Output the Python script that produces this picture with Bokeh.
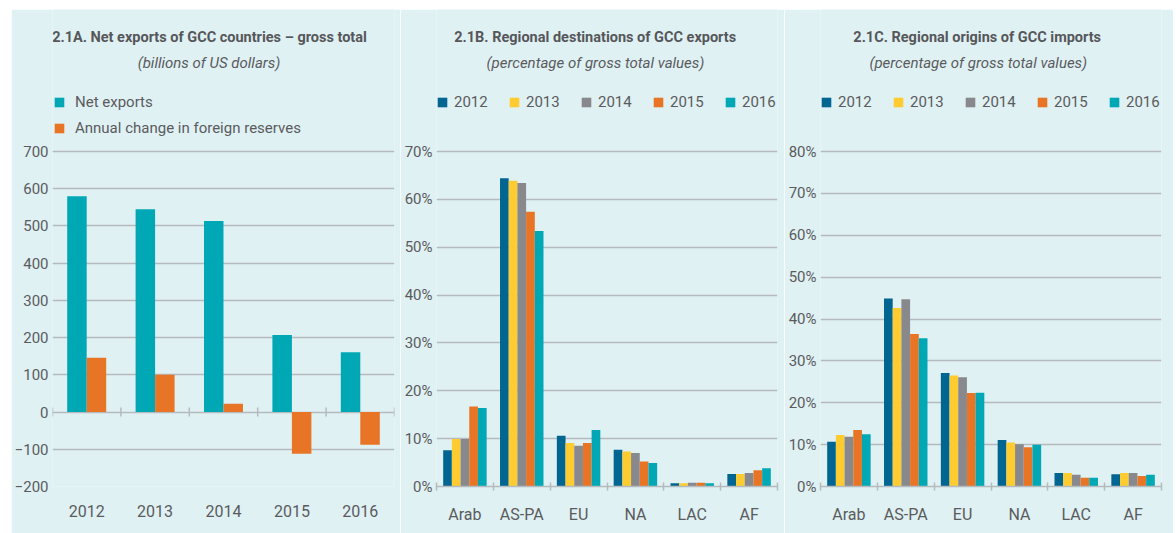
import math
from bokeh.plotting import figure
from bokeh.layouts import row, column
from bokeh.models import (Range1d, FixedTicker, Label, Legend, LegendItem,
                          PrintfTickFormatter, Spacer)
from bokeh.transform import dodge
from bokeh.embed import file_html
from bokeh.resources import INLINE

# ---------------- data ----------------
years = ["2012", "2013", "2014", "2015", "2016"]
net_exports = [580, 545, 513, 207, 161]
reserve_change = [146, 100, 22, -112, -88]

regions = ["Arab", "AS-PA", "EU", "NA", "LAC", "AF"]
dest_2012 = [7.6, 64.4, 10.6, 7.7, 0.7, 2.6]
dest_2013 = [9.9, 63.9, 9.1, 7.3, 0.7, 2.6]
dest_2014 = [9.9, 63.4, 8.5, 7.0, 0.8, 2.8]
dest_2015 = [16.7, 57.4, 9.1, 5.2, 0.8, 3.4]
dest_2016 = [16.4, 53.4, 11.8, 4.9, 0.7, 3.8]

orig_2012 = [10.7, 44.9, 27.1, 11.1, 3.2, 2.9]
orig_2013 = [12.3, 42.6, 26.5, 10.5, 3.2, 3.2]
orig_2014 = [11.9, 44.7, 26.1, 10.1, 2.8, 3.2]
orig_2015 = [13.5, 36.4, 22.3, 9.4, 2.1, 2.5]
orig_2016 = [12.5, 35.4, 22.4, 10.0, 2.1, 2.8]

titles = ["2.1A. Net exports of GCC countries \u2013 gross total",
          "2.1B. Regional destinations of GCC exports",
          "2.1C. Regional origins of GCC imports"]
subtitles = ["(billions of US dollars)",
             "(percentage of gross total values)",
             "(percentage of gross total values)"]
legend_a = ["Net exports", "Annual change in foreign reserves"]

# ---------------- style / layout ----------------
BG = "#e0f1f4"
GRID = "#b5babd"
TXT = "#5a5b5d"
TITLE = "#56575a"
FONT = "Roboto"
TEAL = "#00a8b6"
ORANGE = "#e87525"
YEAR_COLORS = ["#006691", "#fecb30", "#88898d", "#e87525", "#00a8b6"]
H = 524          # figure height
BOTTOM = 47      # space for x labels
FRAME_H = H - BOTTOM   # frame covers header area too (so header texts are not clipped)
GRID_H = 335     # pixel height of the gridded part of the chart
TITLE_Y = 448.7  # screen y of title centre above frame bottom
SUB_Y = 423.7


def base_fig(width, left, right, ymin, ymax, yticks, n):
    yend = ymin + (ymax - ymin) * FRAME_H / GRID_H
    p = figure(width=width, height=H, output_backend="svg", toolbar_location=None,
               title=None,
               x_range=Range1d(0, n), y_range=Range1d(ymin, yend),
               min_border_left=left, min_border_right=right,
               min_border_top=0, min_border_bottom=BOTTOM,
               background_fill_color=BG, border_fill_color=BG,
               outline_line_color=None)
    p.xgrid.visible = False
    p.ygrid.ticker = FixedTicker(ticks=yticks)
    p.ygrid.grid_line_color = GRID
    p.ygrid.grid_line_width = 1.5
    ya = p.yaxis[0]
    ya.ticker = FixedTicker(ticks=yticks)
    ya.axis_line_color = None
    ya.major_tick_line_color = None
    ya.minor_tick_line_color = None
    ya.major_tick_in = 0
    ya.major_tick_out = 0
    ya.minor_tick_in = 0
    ya.minor_tick_out = 0
    ya.major_label_text_font = FONT
    ya.major_label_text_font_size = "15px"
    ya.major_label_text_color = TXT
    ya.major_label_standoff = 4
    xa = p.xaxis[0]
    centers = [i + 0.5 for i in range(n)]
    bounds = [float(i) for i in range(n + 1)]
    xa.ticker = FixedTicker(ticks=centers, minor_ticks=bounds)
    xa.major_tick_line_color = None
    xa.major_tick_in = 0
    xa.major_tick_out = 0
    xa.minor_tick_in = 4
    xa.minor_tick_out = 4
    xa.minor_tick_line_color = GRID
    xa.minor_tick_line_width = 1.5
    xa.axis_line_color = GRID
    xa.axis_line_width = 1.5
    xa.major_label_text_font = FONT
    xa.major_label_text_font_size = "16px"
    xa.major_label_text_color = TXT
    xa.major_label_standoff = 14
    return p, centers, bounds


def add_titles(p, idx, tx, sx):
    p.add_layout(Label(x=tx, y=TITLE_Y, x_units="screen", y_units="screen",
                       text=titles[idx], text_align="center", text_baseline="middle",
                       text_font=FONT, text_font_style="bold",
                       text_font_size="14.5px", text_color=TITLE))
    p.add_layout(Label(x=sx, y=SUB_Y, x_units="screen", y_units="screen",
                       text=subtitles[idx], text_align="center", text_baseline="middle",
                       text_font=FONT, text_font_style="italic",
                       text_font_size="15px", text_color=TXT))


def style_legend(lg):
    lg.background_fill_alpha = 0
    lg.border_line_color = None
    lg.padding = 0
    lg.margin = 0
    lg.glyph_width = 12
    lg.glyph_height = 12
    lg.label_text_font = FONT
    lg.label_text_font_size = "15px"
    lg.label_text_color = TXT
    lg.label_height = 20


# ---------------- panel A ----------------
pa, ca, ba = base_fig(389, 41, 6, -200, 700, list(range(-200, 701, 100)), len(years))
pa.xaxis[0].axis_line_color = None
pa.xaxis[0].minor_tick_line_color = None
pa.xaxis[0].major_label_overrides = {c: y for c, y in zip(ca, years)}
src_a = dict(x=ca, net=net_exports, res=reserve_change)
bw = 0.285
r1 = pa.vbar(x=dodge("x", -bw / 2), top="net", bottom=0, width=bw, source=src_a,
             fill_color=TEAL, line_color=None)
r2 = pa.vbar(x=dodge("x", bw / 2), top="res", bottom=0, width=bw, source=src_a,
             fill_color=ORANGE, line_color=None)
pa.scatter(x=ba, y=[0] * len(ba), marker="dash", angle=math.pi / 2, size=9,
           line_color=GRID, line_width=1.5)
add_titles(pa, 0, 157, 156.5)
lga = Legend(items=[LegendItem(label=legend_a[0], renderers=[r1]),
                    LegendItem(label=legend_a[1], renderers=[r2])],
             location=(1, 347.7), orientation="vertical")
style_legend(lga)
lga.spacing = 6
lga.label_standoff = 10
pa.add_layout(lga)


# ---------------- panels B, C ----------------
def region_panel(idx, series, ymax, width, right, tx, sx):
    p, c, b = base_fig(width, 36, right, 0, ymax, list(range(0, ymax + 1, 10)), len(regions))
    p.xaxis[0].major_label_overrides = {ci: r for ci, r in zip(c, regions)}
    p.yaxis[0].formatter = PrintfTickFormatter(format="%d%%")
    w = 0.153
    data = dict(x=c)
    for yr, vals in zip(years, series):
        data["v" + yr] = vals
    items = []
    for k, yr in enumerate(years):
        r = p.vbar(x=dodge("x", (k - 2) * w), top="v" + yr, bottom=0,
                   width=w, source=data, fill_color=YEAR_COLORS[k], line_color=None)
        items.append(LegendItem(label=yr, renderers=[r]))
    add_titles(p, idx, tx, sx)
    lg = Legend(items=items, location=(0, 373.7), orientation="horizontal")
    style_legend(lg)
    lg.label_width = 40
    lg.label_standoff = 6
    lg.spacing = 14
    p.add_layout(lg)
    return p


pb = region_panel(1, [dest_2012, dest_2013, dest_2014, dest_2015, dest_2016], 70, 384, 7,
                  158.7, 159)
pc = region_panel(2, [orig_2012, orig_2013, orig_2014, orig_2015, orig_2016], 80, 389, 12,
                  156.7, 157.8)

panels = row(Spacer(width=11, height=H), pa, pb, pc)
panels.spacing = 0
layout = column(Spacer(width=1173, height=9), panels)
layout.spacing = 0
open("out.html", "w").write(file_html(layout, INLINE))
